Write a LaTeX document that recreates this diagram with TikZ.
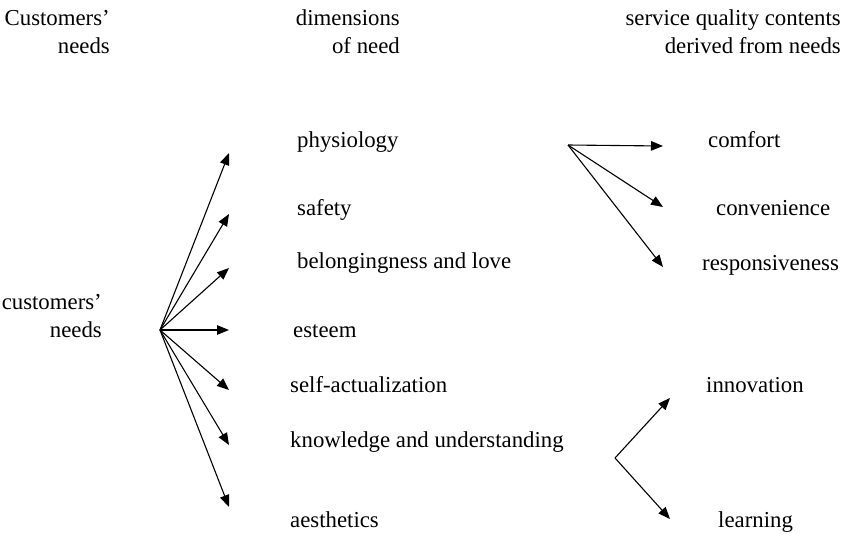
\documentclass[tikz,border=0pt]{standalone}
\usepackage{fontspec}
\setmainfont{Liberation Serif}
\usepackage{tikz}
\usetikzlibrary{arrows.meta, positioning}

\begin{document}
\begin{tikzpicture}[
  x=1pt, y=-1pt,
  txt/.style={inner sep=0pt, font=\fontsize{22.8}{28}\selectfont},
  head/.style={txt, align=right, anchor=base east},
  item/.style={txt, anchor=base west},
  arr/.style={-{Triangle[length=12pt, width=9.5pt]}, line width=1.1pt}
]
\useasboundingbox (0,0) rectangle (849,533);

% --- column headings ---
\node[head] (hcust) at (110,53) {Customers’\\needs};
\node[head] (hdim)  at (400,53) {dimensions\\of need};
\node[head] (hserv) at (841,53) {service quality contents\\derived from needs};

% --- source ---
\node[head] (cneeds) at (102,337) {customers’\\needs};
\coordinate (hub) at (160,330);

% --- dimensions of need ---
\node[item] (phys)  at (297,147) {physiology};
\node[item] (safe)  at (297,215) {safety};
\node[item] (belo)  at (297,268) {belongingness and love};
\node[item] (este)  at (293,337) {esteem};
\node[item] (selfa) at (290,392) {self-actualization};
\node[item] (know)  at (290,447) {knowledge and understanding};
\node[item] (aest)  at (290,527) {aesthetics};

% --- service quality contents ---
\node[item] (comf)  at (708,147) {comfort};
\node[item] (conv)  at (716,215) {convenience};
\node[item] (resp)  at (702,270) {responsiveness};
\node[item] (innov) at (706,392) {innovation};
\node[item] (learn) at (718,527) {learning};

% --- arrow ends ---
\coordinate (tphys)  at (229,153);
\coordinate (tsafe)  at (229,214);
\coordinate (tbelo)  at (229,268);
\coordinate (teste)  at (229,330);
\coordinate (tselfa) at (229,390);
\coordinate (tknow)  at (229,445);
\coordinate (taest)  at (229,507);

\coordinate (hubphys) at (568,145);
\coordinate (tcomf)   at (663,146);
\coordinate (tconv)   at (663,207);
\coordinate (tresp)   at (663,267);

\coordinate (hubknow) at (615,458);
\coordinate (tinnov)  at (670,398);
\coordinate (tlearn)  at (670,519);

% --- arrows ---
\foreach \t in {tphys,tsafe,tbelo,teste,tselfa,tknow,taest}
  \draw[arr] (hub) -- (\t);
\foreach \t in {tcomf,tconv,tresp}
  \draw[arr] (hubphys) -- (\t);
\draw[arr] (hubknow) -- (tinnov);
\draw[arr] (hubknow) -- (tlearn);

\end{tikzpicture}
\end{document}
